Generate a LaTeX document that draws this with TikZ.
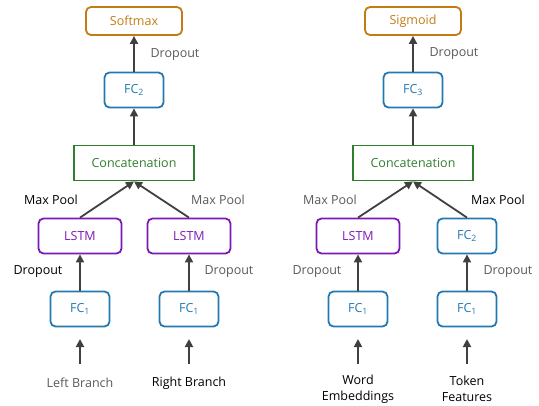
\documentclass[tikz,border=0pt]{standalone}
\usepackage{fontspec}
\setmainfont{Open Sans}
\usetikzlibrary{arrows.meta,positioning}

\definecolor{outorange}{HTML}{C27C12}
\definecolor{fcblue}{HTML}{2279B2}
\definecolor{lstmpurple}{HTML}{7E17B8}
\definecolor{catgreen}{HTML}{2F7F2F}
\definecolor{labelgray}{HTML}{595959}
\definecolor{arrowgray}{HTML}{404040}

\tikzset{
	blk/.style={draw, line width=1.8pt, rounded corners=5pt, minimum height=35pt, inner sep=0pt, font=\fontsize{12.5}{14}\selectfont},
	outbox/.style={blk, draw=outorange, text=outorange, minimum width=96pt, minimum height=28pt},
	fcbox/.style={blk, draw=fcblue, text=fcblue, minimum width=59pt},
	lstmbox/.style={blk, draw=lstmpurple, text=lstmpurple, minimum width=83pt},
	catbox/.style={blk, rounded corners=0pt, draw=catgreen, text=catgreen, minimum width=120pt, minimum height=35pt},
	lbl/.style={font=\fontsize{12.5}{16}\selectfont, text=labelgray, inner sep=0pt},
	lbldark/.style={lbl, text=black, align=center},
	arr/.style={-{Triangle[width=8pt,length=8pt]}, line width=1.8pt, draw=arrowgray}
}

\begin{document}
\begin{tikzpicture}[x=1pt,y=-1pt]
	\useasboundingbox (0,0) rectangle (539,405);

	%Left model
	\node[outbox] (soft) at (134,21) {Softmax};
	\node[fcbox] (fctwo) at (134,90) {FC\textsubscript{2}};
	\node[catbox] (catl) at (134,163) {Concatenation};
	\node[lstmbox] (lstma) at (80,236) {LSTM};
	\node[lstmbox] (lstmb) at (189,236) {LSTM};
	\node[fcbox] (fca) at (80,309) {FC\textsubscript{1}};
	\node[fcbox] (fcb) at (189,309) {FC\textsubscript{1}};
	\node[lbl] (leftin) at (80,383) {Left Branch};
	\node[lbldark] (rightin) at (189,383) {Right Branch};
	\coordinate (leftstart) at (80,364);
	\coordinate (rightstart) at (189,364);
	\coordinate (leftend) at (80,339);
	\coordinate (rightend) at (189,339);

	\node[lbl] (dropsoft) at (175,55) {Dropout};
	\node[lbldark] (poola) at (51,200) {Max Pool};
	\node[lbl] (poolb) at (218,200) {Max Pool};
	\node[lbldark] (dropa) at (38,272) {Dropout};
	\node[lbl] (dropb) at (229,272) {Dropout};

	\draw[arr] (fctwo) -- (soft);
	\draw[arr] (catl) -- (fctwo);
	\draw[arr] (lstma.north) -- (catl.south);
	\draw[arr] (lstmb.north) -- (catl.south);
	\draw[arr] (fca) -- (lstma);
	\draw[arr] (fcb) -- (lstmb);
	\draw[arr] (leftstart) -- (leftend);
	\draw[arr] (rightstart) -- (rightend);

	%Right model
	\node[outbox] (sig) at (413,21) {Sigmoid};
	\node[fcbox] (fcthree) at (413,90) {FC\textsubscript{3}};
	\node[catbox] (catr) at (413,163) {Concatenation};
	\node[lstmbox] (lstmc) at (358,236) {LSTM};
	\node[fcbox] (fcd) at (467,236) {FC\textsubscript{2}};
	\node[fcbox] (fcc) at (358,309) {FC\textsubscript{1}};
	\node[fcbox] (fce) at (467,309) {FC\textsubscript{1}};
	\node[lbldark] (wordin) at (358,389) {Word\\Embeddings};
	\node[lbldark] (tokin) at (467,389) {Token\\Features};
	\coordinate (wordstart) at (358,364);
	\coordinate (tokstart) at (467,364);
	\coordinate (wordend) at (358,339);
	\coordinate (tokend) at (467,339);

	\node[lbl] (dropsig) at (454,54) {Dropout};
	\node[lbl] (poolc) at (330,200) {Max Pool};
	\node[lbldark] (poold) at (498,200) {Max Pool};
	\node[lbl] (dropc) at (317,272) {Dropout};
	\node[lbl] (dropd) at (508,272) {Dropout};

	\draw[arr] (fcthree) -- (sig);
	\draw[arr] (catr) -- (fcthree);
	\draw[arr] (lstmc.north) -- (catr.south);
	\draw[arr] (fcd.north) -- (catr.south);
	\draw[arr] (fcc) -- (lstmc);
	\draw[arr] (fce) -- (fcd);
	\draw[arr] (wordstart) -- (wordend);
	\draw[arr] (tokstart) -- (tokend);
\end{tikzpicture}
\end{document}
